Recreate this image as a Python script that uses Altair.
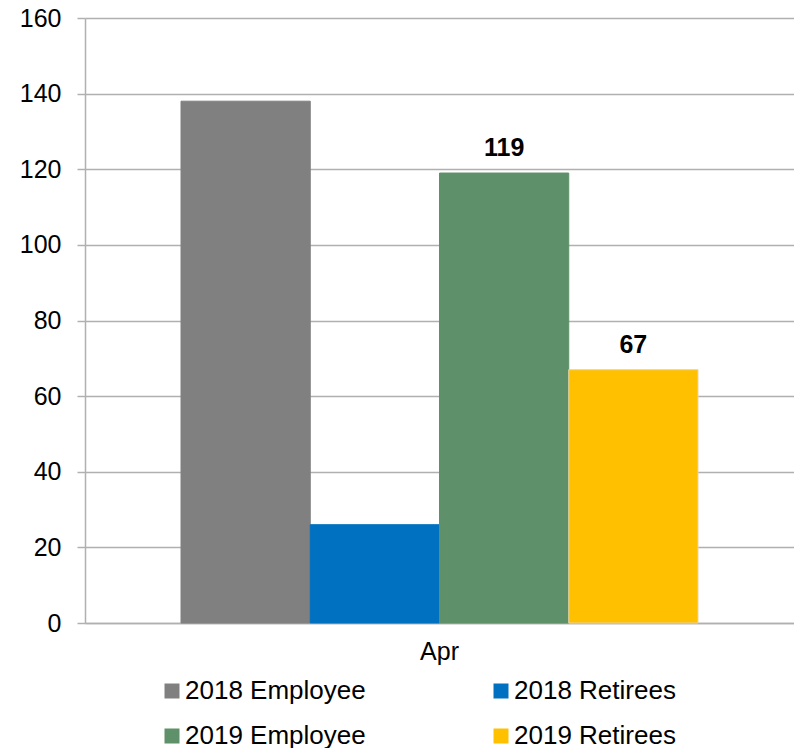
import altair as alt
import pandas as pd

months = ["Apr"]
series = ["2018 Employee", "2018 Retirees", "2019 Employee", "2019 Retirees"]
values = [138, 26, 119, 67]
show_label = [False, False, True, True]
colors = ["#808080", "#0070C0", "#5E9169", "#FFC000"]
strokes = ["#808080", "#0070C0", "#5E9169", "#E6D5A8"]
y_ticks = [0, 20, 40, 60, 80, 100, 120, 140, 160]

# legend is filled column by column, so this order gives rows
# "2018 Employee | 2018 Retirees" and "2019 Employee | 2019 Retirees"
legend_order = [series[0], series[2], series[1], series[3]]
legend_colors = [colors[series.index(s)] for s in legend_order]
legend_strokes = [strokes[series.index(s)] for s in legend_order]

df = pd.DataFrame({
    "month": months * len(series),
    "series": series,
    "value": values,
    "label": [str(v) if s else "" for v, s in zip(values, show_label)],
})

FONT = "Liberation Sans"
FS = 25

x = alt.X("month:N", title=None,
          scale=alt.Scale(paddingInner=0, paddingOuter=0.1857),
          axis=alt.Axis(labelAngle=0, ticks=False, labelPadding=16, labelFontSize=FS,
                        labelFont=FONT, labelColor="#000000",
                        domainColor="#B0B0B0", domainWidth=1.5))
xo = alt.XOffset("series:N", sort=series,
                 scale=alt.Scale(paddingInner=0, paddingOuter=0))
y = alt.Y("value:Q", title=None,
          scale=alt.Scale(domain=[0, 160], nice=False),
          axis=alt.Axis(values=y_ticks, labelFontSize=FS, labelFont=FONT,
                        labelColor="#000000", tickSize=8, tickColor="#B0B0B0",
                        tickWidth=1.5, labelPadding=16, domainColor="#B0B0B0",
                        domainWidth=1.5, gridColor="#B0B0B0", gridWidth=1.5))

bars = alt.Chart(df).mark_bar(strokeWidth=1).encode(
    x=x, xOffset=xo, y=y,
    color=alt.Color("series:N",
                    scale=alt.Scale(domain=legend_order, range=legend_colors),
                    legend=alt.Legend(title=None, orient="none", legendX=74, legendY=660,
                                      columns=2, columnPadding=122, rowPadding=19,
                                      symbolType="square", symbolSize=225,
                                      symbolStrokeWidth=0, labelOffset=0,
                                      labelFontSize=26, labelFont=FONT,
                                      labelColor="#000000", labelLimit=400)),
    stroke=alt.Stroke("series:N",
                      scale=alt.Scale(domain=legend_order, range=legend_strokes),
                      legend=None),
)

labels = alt.Chart(df).mark_text(dy=-17, baseline="alphabetic", fontSize=FS,
                                 fontWeight="bold", font=FONT,
                                 color="#000000").encode(
    x=alt.X("month:N"), xOffset=alt.XOffset("series:N", sort=series),
    y=alt.Y("value:Q"), text="label:N",
)

chart = (bars + labels).properties(
    width=709, height=605,
    autosize=alt.AutoSizeParams(type="none"),
    padding={"left": 77, "top": 10, "right": 0, "bottom": 125},
).configure_view(stroke=None).configure_axis(gridDash=[])

chart.save("out.html", embed_options={"renderer": "svg", "actions": False})
